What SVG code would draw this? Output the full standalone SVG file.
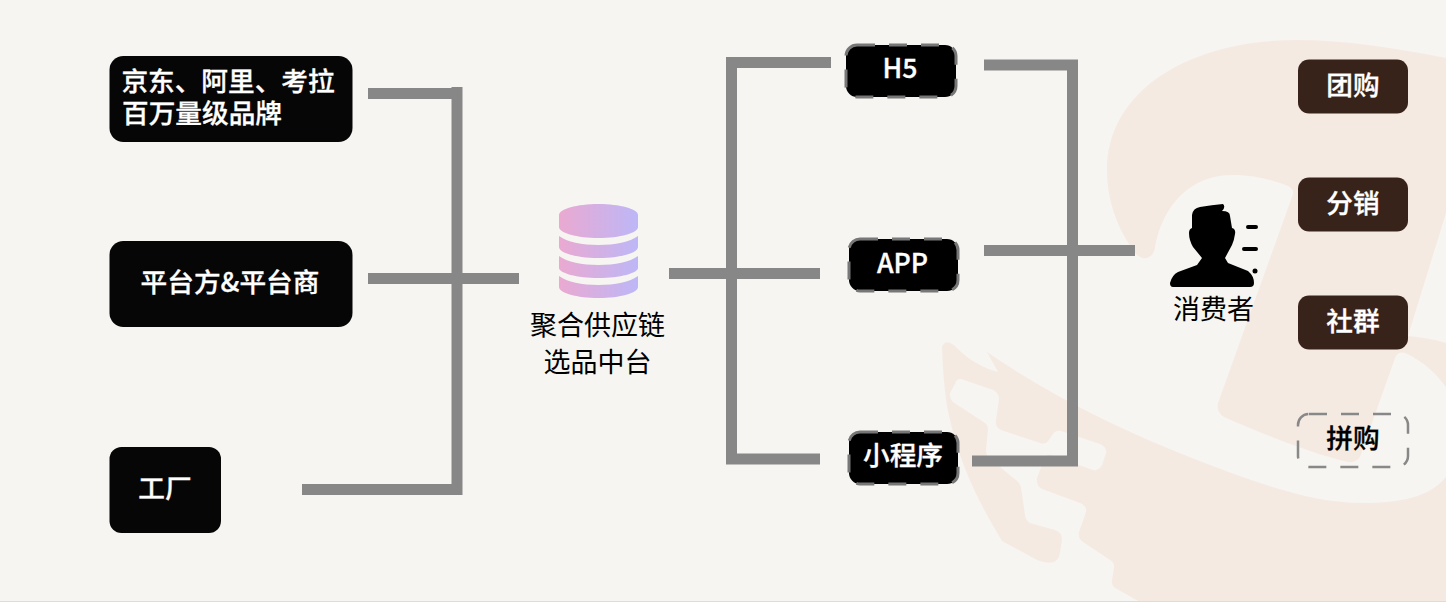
<svg xmlns="http://www.w3.org/2000/svg" width="1446" height="602" viewBox="0 0 1446 602">
<style>
text{font-family:"Noto Sans CJK SC","Noto Sans",sans-serif;font-size:26.67px;text-anchor:middle}
.w{fill:#fff;font-weight:500;stroke:#fff;stroke-width:.3}
.k{fill:#000;font-weight:400;font-size:27px}
.b{fill:#000;font-weight:500;stroke:#000;stroke-width:.3}
.n{fill:#060606}
.m{fill:#000;stroke:#777;stroke-width:3;stroke-dasharray:18 14}
.t{fill:#38231b}
.c{fill:none;stroke:#878787;stroke-width:11}
.g{fill:#f5eae2}
</style>
<defs><linearGradient id="db" x1="0" y1="0" x2="1" y2="0"><stop offset="0" stop-color="#eaa9d1"/><stop offset="1" stop-color="#bdb7f7"/></linearGradient></defs>
<rect width="1446" height="602" fill="#f6f5f1"/>
<g id="background">
<path class="g" d="M1446 58C1395 48 1345 40 1297 40C1190 40 1107 90 1107 170C1107 205 1120 232 1135 253Q1140 259 1147 258Q1154 256 1155 247C1163 205 1190 175 1233 175C1255 175 1272 180 1288 186Q1294 189 1293 194L1218 403Q1216 412 1224 417C1265 435 1310 453 1348 462Q1356 463 1360 457L1395 358Q1398 351 1405 353C1425 362 1437 375 1446 387V343C1433 339 1420 337 1408 336L1446 213Z"/>
<path class="g" d="M1446 477C1430 497 1400 503 1363 503C1310 503 1255 482 1197 460C1120 430 1050 395 987 352L998 372C980 367 965 357 955 346Q945 338 942 347C943 375 945 400 950 420C960 465 980 505 1002 541L1037 560Q1058 568 1060 553L1062 540Q1062 532 1055 530L1030 523Q1026 521 1025 515L1021 487Q1020 483 1016 480L989 458Q986 455 986 450L988 430Q988 425 985 423L953 402Q949 398 950 393L955 384Q957 377 964 380L993 390Q999 393 999 399L996 420Q995 427 1001 430L1040 443Q1046 445 1049 440L1053 434Q1056 430 1061 431L1100 444Q1107 447 1106 453L1102 465Q1099 471 1093 470L1051 455Q1046 454 1044 459L1037 478Q1036 486 1042 489L1080 503Q1087 506 1086 512L1079 532Q1078 539 1083 542L1110 560Q1115 563 1114 568L1112 580Q1111 586 1117 589L1140 602H1446Z"/>
</g>
<rect y="601" width="1446" height="1" fill="#dcdcdc"/>
<g id="connectors">
<path class="c" d="M368 93.500H452M457 87V495M457 489.500H302"/>
<path class="c" d="M368 278.500H519"/>
<path class="c" d="M831 62.500H731.500V459H820"/>
<path class="c" d="M669 273.500H820"/>
<path class="c" d="M984 65H1072.500V461H972"/>
<path class="c" d="M984 250.500H1135"/>
</g>
<g id="n-jd"><rect class="n" x="109.500" y="56" width="243" height="86" rx="14"/><text class="w" x="228" y="91">京东、阿里、考拉</text><text class="w" x="202" y="123">百万量级品牌</text></g>
<g id="n-platform"><rect class="n" x="109.500" y="241" width="243" height="86" rx="14"/><text class="w" x="230" y="292">平台方&amp;平台商</text></g>
<g id="n-factory"><rect class="n" x="109.500" y="447" width="111.500" height="86" rx="12"/><text class="w" x="165" y="498">工厂</text></g>
<g id="n-hub">
<g fill="url(#db)">
<path d="M559 215C559 209 577 204 598.500 204C620 204 638 209 638 215V227C638 233 620 238 598.500 238C577 238 559 233 559 227Z"/>
<path d="M559 236C567 242 582 245 598.500 245C615 245 630 242 638 236V247C638 253 620 258 598.500 258C577 258 559 253 559 247Z"/>
<path d="M559 256C567 262 582 265 598.500 265C615 265 630 262 638 256V268C638 273 620 278 598.500 278C577 278 559 273 559 268Z"/>
<path d="M559 276C567 282 582 285 598.500 285C615 285 630 282 638 276V287C638 293 620 298 598.500 298C577 298 559 293 559 287Z"/>
</g>
<text class="k" x="597.500" y="335">聚合供应链</text><text class="k" x="597.500" y="372">选品中台</text></g>
<g id="n-h5"><rect class="m" x="846" y="45" width="110" height="52" rx="11"/><text class="w" x="900" y="78">H5</text></g>
<g id="n-app"><rect class="m" x="849" y="239" width="109" height="52" rx="11"/><text class="w" x="902.500" y="273">APP</text></g>
<g id="n-mini"><rect class="m" x="849" y="432" width="109" height="52" rx="11"/><text class="w" x="903" y="465">小程序</text></g>
<g id="n-consumer">
<path d="M1223 204Q1226 207 1222 211Q1230 211 1230 216L1232 228Q1236 229 1235 234Q1234 241 1232 245L1225 258L1228 263L1248 271Q1254 276 1254 283Q1254 287 1250 287H1173Q1170 287 1170 283Q1172 275 1178 272L1197 265L1202 258L1193 247Q1189 240 1189 233Q1189 229 1192 228V215Q1193 208 1200 207Q1212 205 1223 204Z"/>
<path d="M1248 227H1256M1244 249H1256" stroke="#000" stroke-width="4" stroke-linecap="round" fill="none"/><circle cx="1255" cy="271" r="2.500"/>
<text class="k" x="1213.500" y="319">消费者</text></g>
<g id="n-tuan"><rect class="t" x="1298" y="59.500" width="110" height="54" rx="11"/><text class="w" x="1353" y="95">团购</text></g>
<g id="n-fen"><rect class="t" x="1298" y="177.500" width="110" height="54" rx="11"/><text class="w" x="1353" y="212.500">分销</text></g>
<g id="n-she"><rect class="t" x="1298" y="295.500" width="110" height="54" rx="11"/><text class="w" x="1353" y="330.500">社群</text></g>
<g id="n-pin"><rect x="1298" y="414" width="110" height="53" rx="11" fill="none" stroke="#888" stroke-width="2.500" stroke-dasharray="18 14"/><text class="b" x="1353" y="448">拼购</text></g>
</svg>
